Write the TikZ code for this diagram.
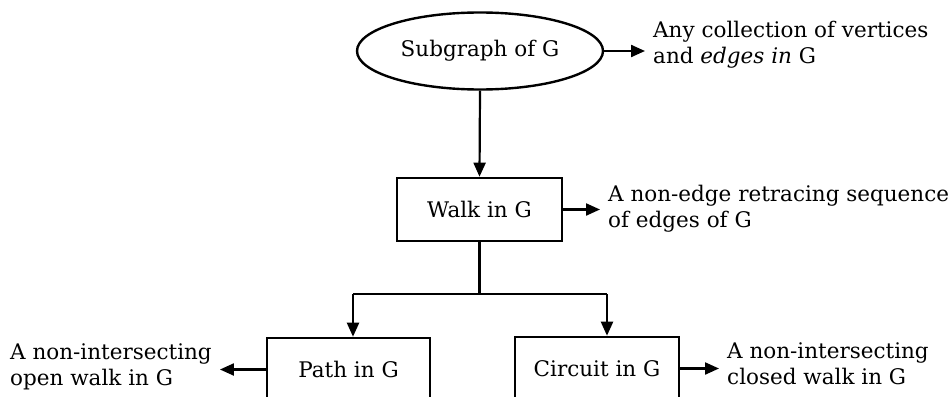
\documentclass[tikz,border=0pt]{standalone}
\usepackage{fontspec}
\setmainfont{DejaVu Serif}
\usetikzlibrary{shapes.geometric,arrows.meta}
\begin{document}
\begin{tikzpicture}[x=1pt,y=-1pt,
  every node/.style={font=\fontsize{21.5}{26}\selectfont},
  ovalbox/.style={ellipse,draw,line width=2.4pt,minimum width=246pt,minimum height=77pt,inner sep=0pt},
  conceptbox/.style={rectangle,draw,line width=2.6pt,minimum height=63pt,inner sep=0pt},
  note/.style={align=left,anchor=west,inner xsep=8pt,inner ysep=0pt},
  conn/.style={line width=2.2pt},
  arr/.style={conn,-{Triangle[length=14pt,width=12pt]}}]
\useasboundingbox (0,0) rectangle (949,396);
\clip (0,0) rectangle (949,396);
\fill[white] (0,0) rectangle (949,396);

\node[ovalbox] (sub) at (480,51) {Subgraph of G};
\node[conceptbox,minimum width=165pt] (walk) at (479.5,209.5) {Walk in G};
\node[conceptbox,minimum width=163pt] (path) at (348.5,369.5) {Path in G};
\node[conceptbox,minimum width=164pt] (circ) at (597,368.5) {Circuit in G};

\node[note] (anytext) at (645,45) {Any collection of vertices\\and \textit{edges in} G};
\node[note] (walktext) at (600,209) {A non-edge retracing sequence\\of edges of G};
\node[note] (pathtext) at (2,367) {A non-intersecting\\open walk in G};
\node[note] (circtext) at (719,364) {A non-intersecting\\closed walk in G};

\coordinate (jL) at (353,294);
\coordinate (jR) at (607,294);

\draw[arr] (sub.east) -- (sub.east -| anytext.west);
\draw[arr] (sub.south) -- (walk.north);
\draw[arr] (walk.east) -- (walk.east -| walktext.west);
\draw[conn] (walk.south) -- (walk.south |- jL);
\draw[conn] (jL) -- (jR);
\draw[arr] (jL) -- (jL |- path.north);
\draw[arr] (jR) -- (jR |- circ.north);
\draw[arr] (path.west) -- (path.west -| pathtext.east);
\draw[arr] (circ.east) -- (circ.east -| circtext.west);
\end{tikzpicture}
\end{document}
